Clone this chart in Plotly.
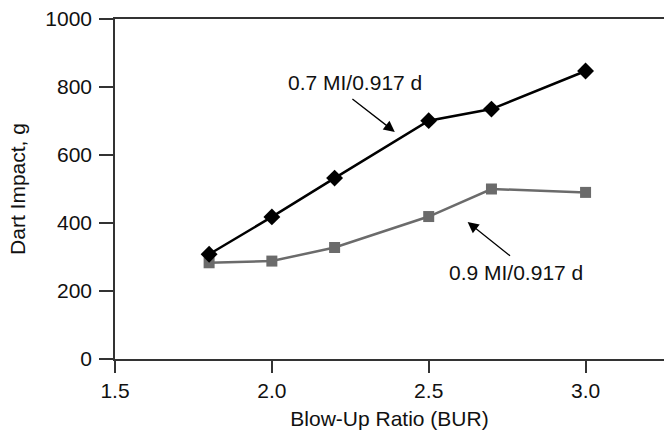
import plotly.graph_objects as go

bur = [1.8, 2.0, 2.2, 2.5, 2.7, 3.0]
impact_07 = [308, 418, 532, 701, 735, 847]
impact_09 = [283, 288, 328, 419, 500, 490]

label_07 = "0.7 MI/0.917 d"
label_09 = "0.9 MI/0.917 d"
x_ticks = [1.5, 2.0, 2.5, 3.0]
x_tick_text = ["1.5", "2.0", "2.5", "3.0"]
y_ticks = [0, 200, 400, 600, 800, 1000]

FONT = "Liberation Sans, Arial, Helvetica, sans-serif"
FS = 21

fig = go.Figure()
fig.add_trace(go.Scatter(x=bur, y=impact_09, mode="lines+markers",
                         line=dict(color="#6b6b6b", width=2.5),
                         marker=dict(symbol="square", size=11, color="#6b6b6b"),
                         showlegend=False))
fig.add_trace(go.Scatter(x=bur, y=impact_07, mode="lines+markers",
                         line=dict(color="#000000", width=2.5),
                         marker=dict(symbol="diamond", size=13, color="#000000"),
                         showlegend=False))

# text labels
fig.add_annotation(x=2.264, y=812, xref="x", yref="y", text=label_07, showarrow=False,
                   font=dict(size=FS, color="#111", family=FONT))
fig.add_annotation(x=2.777, y=253, xref="x", yref="y", text=label_09, showarrow=False,
                   font=dict(size=FS, color="#111", family=FONT))
# arrows
fig.add_annotation(x=2.392, y=668, ax=2.252, ay=768, xref="x", yref="y", axref="x", ayref="y",
                   text="", showarrow=True, arrowhead=2, arrowsize=1.7, arrowwidth=1.3,
                   arrowcolor="#000")
fig.add_annotation(x=2.624, y=403, ax=2.764, ay=300, xref="x", yref="y", axref="x", ayref="y",
                   text="", showarrow=True, arrowhead=2, arrowsize=1.7, arrowwidth=1.3,
                   arrowcolor="#000")

fig.update_layout(
    width=665, height=430,
    margin=dict(l=115, r=1, t=19, b=71),
    paper_bgcolor="white", plot_bgcolor="white",
    font=dict(family=FONT, size=FS, color="#111"),
)
fig.update_xaxes(range=[1.5, 3.25], tickvals=x_ticks, ticktext=x_tick_text,
                 showgrid=False, zeroline=False, showline=True, linecolor="#333", linewidth=1.5,
                 mirror=True, ticks="outside", ticklen=12, tickwidth=1.5, tickcolor="#333",
                 title=dict(text="Blow-Up Ratio (BUR)", standoff=12, font=dict(size=FS)),
                 tickfont=dict(size=FS))
fig.update_yaxes(range=[0, 1000], tickvals=y_ticks,
                 showgrid=False, zeroline=False, showline=True, linecolor="#333", linewidth=1.5,
                 ticks="outside", ticklen=14, tickwidth=1.5, tickcolor="#333",
                 ticklabelstandoff=3,
                 title=dict(text="Dart Impact, g", standoff=14, font=dict(size=FS)),
                 tickfont=dict(size=FS))

fig.write_html("out.html", config={"displayModeBar": False},
               post_script="document.body.style.margin='0';")
